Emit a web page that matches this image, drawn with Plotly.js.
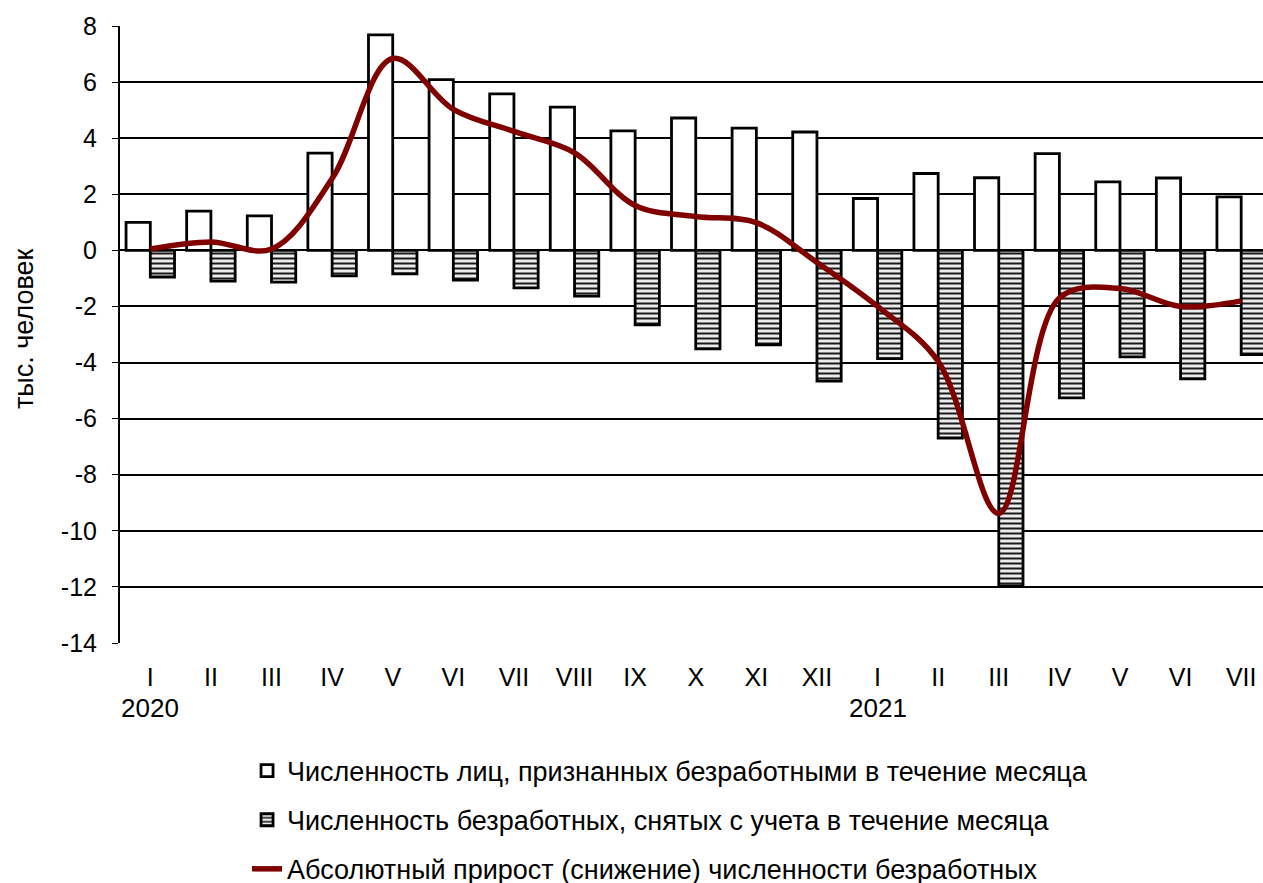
<!DOCTYPE html>
<html>
<head>
<meta charset="utf-8">
<script src="https://cdn.plot.ly/plotly-3.0.1.min.js"></script>
<style>html,body{margin:0;padding:0;background:#fff;}#chart{width:1263px;height:883px;}</style>
</head>
<body>
<div id="chart"></div>
<script>
const months = ["I","II","III","IV","V","VI","VII","VIII","IX","X","XI","XII","I","II","III","IV","V","VI","VII"];
const years = [{idx:0, label:"2020"},{idx:12, label:"2021"}];
const recognized = [1.0,1.4,1.23,3.47,7.68,6.09,5.58,5.11,4.26,4.72,4.36,4.22,1.85,2.74,2.59,3.45,2.44,2.58,1.91];
const removed = [-0.95,-1.1,-1.13,-0.91,-0.84,-1.06,-1.34,-1.63,-2.66,-3.51,-3.37,-4.66,-3.86,-6.69,-11.96,-5.26,-3.8,-4.58,-3.72];
const growth = [0.05,0.3,0.05,2.56,6.84,5.03,4.24,3.48,1.6,1.21,0.99,-0.43,-2.0,-3.96,-9.38,-1.7,-1.36,-2.0,-1.8];
const yTickVals = [8,6,4,2,0,-2,-4,-6,-8,-10,-12,-14];
const yTickText = ["8","6","4","2","0","-2","-4","-6","-8","-10","-12","-14"];
const yTitle = "тыс. человек";
const names = [
  "Численность лиц, признанных безработными в течение месяца",
  "Численность безработных, снятых с учета в течение месяца",
  "Абсолютный прирост (снижение) численности безработных"
];
const xIdx = months.map((m,i)=>i);
const xRange = [-0.5, 18.36];

const traces = [
  {type:"bar", x:xIdx, y:recognized, name:names[0], legendgroup:"a",
   marker:{color:"#ffffff", line:{color:"#000", width:2.8}}},
  {type:"bar", x:xIdx, y:removed, name:names[1], legendgroup:"b",
   marker:{color:"#d0d0d0", line:{color:"#000", width:2.8},
     pattern:{shape:"-", fgcolor:"#1a1a1a", bgcolor:"#ececec", size:5, solidity:0.4}}},
  {type:"scatter", mode:"lines", x:xIdx, y:growth, name:names[2], legendgroup:"c",
   line:{color:"#800000", width:5.5, shape:"spline", smoothing:1}}
];

const boundaries = months.map((m,i)=>i+0.5);

const annotations = years.map(y=>({x:y.idx, xref:"x", y:-0.105, yref:"paper", text:y.label,
    showarrow:false, xanchor:"center", yanchor:"middle", font:{size:26}}));
annotations.push({x:-0.084, xref:"paper", y:0.5105, yref:"paper", text:yTitle, textangle:-90,
    showarrow:false, xanchor:"center", yanchor:"middle", font:{size:27}});

const layout = {
  width:1263, height:883,
  margin:{l:120, r:0, t:26, b:240, autoexpand:false},
  paper_bgcolor:"#fff", plot_bgcolor:"#fff",
  font:{family:"Liberation Sans, Arial, sans-serif", size:25, color:"#000"},
  barmode:"group", bargap:0.2, bargroupgap:0,
  showlegend:true,
  legend:{orientation:"v", xref:"container", yref:"container", x:0.1956, xanchor:"left", y:0.1545, yanchor:"top",
    font:{size:27}, tracegroupgap:11, traceorder:"grouped", bgcolor:"rgba(0,0,0,0)"},
  xaxis:{type:"linear", range:xRange, tickvals:xIdx, ticktext:months,
    showgrid:false, zeroline:false, showline:false, ticks:"", ticklabelstandoff:17,
    tickfont:{size:25}},
  xaxis2:{type:"linear", range:xRange, overlaying:"x", anchor:"free", position:14/22,
    tickvals:boundaries, ticks:"outside", ticklen:7, tickwidth:1, tickcolor:"#555",
    showticklabels:false, showgrid:false, zeroline:false, showline:false},
  yaxis:{range:[-14,8], tickvals:yTickVals, ticktext:yTickText, showgrid:true, gridcolor:"#000", gridwidth:2,
    zeroline:true, zerolinecolor:"#000", zerolinewidth:2,
    showline:true, linecolor:"#000", linewidth:2, ticks:"outside", ticklen:6, tickcolor:"#000",
    ticklabelstandoff:10, tickfont:{size:25}},
  annotations: annotations
};

Plotly.newPlot("chart", traces, layout, {displayModeBar:false, staticPlot:true});
</script>
</body>
</html>
